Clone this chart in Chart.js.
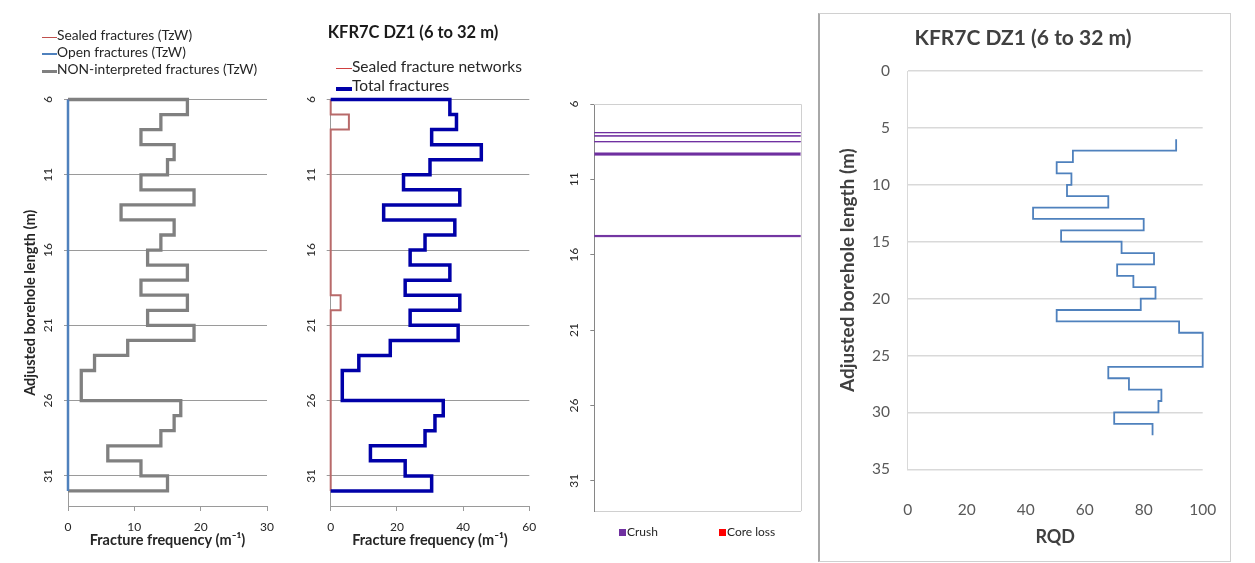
<!DOCTYPE html>
<html><head><meta charset="utf-8">
<script src="https://cdn.jsdelivr.net/npm/chart.js@4"></script>
<style>
html,body{margin:0;padding:0;background:#fff;}
body{width:1255px;height:563px;position:relative;overflow:hidden;font-family:Lato,'Open Sans',sans-serif;}
canvas{position:absolute;left:0;top:0;}
.lg{position:absolute;white-space:nowrap;color:#262626;}
.rqdbox{position:absolute;left:818px;top:13px;width:413px;height:549px;border:1px solid #d0d0d0;border-left:2px solid #a8a8a8;box-sizing:border-box;}
</style></head><body>
<div class="rqdbox"></div>
<canvas id="c1" width="1255" height="563"></canvas>
<canvas id="c2" width="1255" height="563"></canvas>
<canvas id="c3" width="1255" height="563"></canvas>
<canvas id="c4" width="1255" height="563"></canvas>
<script>
// ---------------- DATA ----------------
const depthBreaks = [6,7,8,9,10,11,12,13,14,15,16,17,18,19,20,21,22,23,24,25,26,27,28,29,30,31,32];
const depthTicks = [6,11,16,21,26,31];

// Panel 1 (TzW), fracture frequency per 1 m interval
const sealedTzW = [0,0,0,0,0,0,0,0,0,0,0,0,0,0,0,0,0,0,0,0,0,0,0,0,0,0];
const openTzW = [0,0,0,0,0,0,0,0,0,0,0,0,0,0,0,0,0,0,0,0,0,0,0,0,0,0];
const nonInterpretedTzW = [18,14,11,16,15,11,19,8,16,14,12,18,11,18,12,19,9,4,2,2,17,16,14,6,11,15];

// Panel 2
const sealedNetworks = [0,5.5,0,0,0,0,0,0,0,0,0,0,0,3,0,0,0,0,0,0,0,0,0,0,0,0];
const totalFractures = [36,38,30.5,45.5,30,22,39,16,37.5,28.5,24,36,22.5,39,24,38.5,18,8.5,3.5,3.5,34,31.5,28.5,12,22.5,30.5];

// Panel 3 (crush / core loss intervals, m)
const crushFrom = [7.89,8.11,8.49,9.25,14.72];
const crushTo   = [7.91,8.13,8.51,9.39,14.80];
const coreLossFrom = [];
const coreLossTo = [];

// Panel 4 (RQD)
const rqdBreaks = [6,7,8,9,10,11,12,13,14,15,16,17,18,19,20,21,22,23,26,27,28,29,30,31,32];
const rqdValues = [91,56,50.5,55.5,54,68,42.5,80,52,72.5,83.5,71,76.5,84,79,50.5,92,100,68,75,86,85,70,83];
const rqdTicks = [0,5,10,15,20,25,30,35];

// ---------------- HELPERS ----------------
const TXT = '#262626';
Chart.defaults.font.family = "Lato, 'Open Sans', sans-serif";
Chart.defaults.color = TXT;
Chart.defaults.animation = false;
Chart.defaults.responsive = false;
Chart.defaults.devicePixelRatio = 1;
Chart.defaults.plugins.legend.display = false;
Chart.defaults.plugins.tooltip.enabled = false;
Chart.defaults.elements.point.radius = 0;
Chart.defaults.elements.line.tension = 0;
Chart.defaults.elements.line.borderJoinStyle = 'miter';
Chart.defaults.elements.line.borderCapStyle = 'butt';

function stepPoints(breaks, values, closeZero) {
  const pts = [];
  if (closeZero) pts.push({x: 0, y: breaks[0]});
  values.forEach((v, i) => { pts.push({x: v, y: breaks[i]}); pts.push({x: v, y: breaks[i + 1]}); });
  if (closeZero) pts.push({x: 0, y: breaks[breaks.length - 1]});
  return pts;
}

function depthAxis(o) {
  return {
    type: 'linear', reverse: true, min: 6, max: 33,
    afterBuildTicks: s => { s.ticks = depthTicks.map(v => ({value: v})); },
    afterFit: s => { s.width = o.width; },
    ticks: {minRotation: 90, maxRotation: 90, crossAlign: 'center', padding: 9, font: {size: 12}, color: TXT, autoSkip: false},
    grid: {display: true, drawOnChartArea: o.grid, color: '#9a9a9a', tickColor: o.tickColor || '#9a9a9a', tickLength: 4},
    border: {display: true, color: o.border || '#9a9a9a'},
    title: o.title ? {display: true, text: 'Adjusted borehole length (m)', font: {size: 14.5, weight: 'bold'}, color: TXT, padding: {top: 21.3, bottom: 0}} : {display: false}
  };
}
function freqAxis(max, step) {
  return {
    type: 'linear', min: 0, max: max,
    afterFit: s => { s.height = 57; },
    ticks: {stepSize: step, padding: 9, font: {size: 12}, color: TXT, maxRotation: 0},
    grid: {display: true, drawOnChartArea: false, tickLength: 5, color: '#9a9a9a'},
    border: {display: true, color: '#9a9a9a'},
    title: {display: true, text: 'Fracture frequency (m\u207B\u00B9)', font: {size: 14.5, weight: 'bold'}, color: TXT, padding: {top: 0, bottom: 14.3}}
  };
}
function lineLegend(chart, idxs, cfg) {
  idxs.forEach((di, k) => {
    const ds = chart.data.datasets[di];
    const el = document.createElement('div');
    el.className = 'lg';
    el.style.cssText = 'left:' + cfg.left + 'px;top:' + (cfg.top + k * cfg.row) + 'px;font-size:' + cfg.size + 'px;line-height:16px;padding-left:' + cfg.lineW + 'px;';
    const ln = document.createElement('span');
    ln.style.cssText = 'position:absolute;left:0;top:' + cfg.lineTop[k] + 'px;width:' + cfg.lineW + 'px;height:' + cfg.thick[k] + 'px;background:' + cfg.color[k] + ';';
    el.appendChild(ln);
    el.appendChild(document.createTextNode(ds.label));
    document.body.appendChild(el);
  });
}
const framePlugin = {
  id: 'frame',
  beforeDatasetsDraw(chart) {
    const {ctx, chartArea: a} = chart;
    ctx.save();
    ctx.strokeStyle = '#d0d0d0'; ctx.lineWidth = 1;
    ctx.beginPath();
    ctx.moveTo(Math.round(a.left), Math.round(a.top) + 0.5);
    ctx.lineTo(Math.round(a.right) + 0.5, Math.round(a.top) + 0.5);
    ctx.lineTo(Math.round(a.right) + 0.5, Math.round(a.bottom));
    ctx.stroke();
    ctx.restore();
  }
};

// ---------------- PANEL 1 ----------------
const c1 = new Chart(document.getElementById('c1'), {
  type: 'line',
  data: {datasets: [
    {label: 'Sealed fractures (TzW)', data: stepPoints(depthBreaks, sealedTzW, true), borderColor: '#C0504D', borderWidth: 1.5, order: 1, clip: false},
    {label: 'Open fractures (TzW)', data: stepPoints(depthBreaks, openTzW, true), borderColor: '#4F81BD', borderWidth: 2.5, order: 0, clip: false},
    {label: 'NON-interpreted fractures (TzW)', data: stepPoints(depthBreaks, nonInterpretedTzW, true), borderColor: '#808080', borderWidth: 3.3, order: 2, clip: false}
  ]},
  options: {
    layout: {padding: {left: 0, right: 988, top: 99.5, bottom: 0}},
    scales: {x: freqAxis(30, 10), y: depthAxis({width: 68, grid: true, title: true})}
  }
});
lineLegend(c1, [0, 1, 2], {left: 42, top: 26.5, row: 17.3, size: 13.8, lineW: 15, lineTop: [10, 9, 8.5], thick: [1.5, 2, 3], color: ['#C0504D', '#4F81BD', '#808080']});

// ---------------- PANEL 2 ----------------
const c2 = new Chart(document.getElementById('c2'), {
  type: 'line',
  data: {datasets: [
    {label: 'Sealed fracture networks', data: stepPoints(depthBreaks, sealedNetworks, true), borderColor: '#b86a6a', borderWidth: 2, order: 1, clip: false},
    {label: 'Total fractures', data: stepPoints(depthBreaks, totalFractures, true), borderColor: '#0000a8', borderWidth: 3.5, order: 0, clip: false}
  ]},
  options: {
    layout: {padding: {left: 296.7, right: 725.7, top: 0, bottom: 0}},
    plugins: {title: {display: true, text: 'KFR7C DZ1 (6 to 32 m)', font: {size: 16.5, weight: 'bold'}, color: '#1a1a1a', padding: {top: 23.1, bottom: 56.6}}},
    scales: {x: freqAxis(60, 20), y: depthAxis({width: 34, grid: true, title: false})}
  }
});
lineLegend(c2, [0, 1], {left: 336, top: 58, row: 19, size: 15.5, lineW: 16, lineTop: [10, 10], thick: [1, 4], color: ['#d04040', '#0000a8']});

// ---------------- PANEL 3 ----------------
const crushSets = [];
crushFrom.forEach((f, i) => {
  crushSets.push({label: i === 0 ? 'Crush' : '', data: [{x: 0, y: f}, {x: 1, y: f}], borderColor: '#7030A0', borderWidth: 1, fill: false, clip: false});
  crushSets.push({label: '', data: [{x: 0, y: crushTo[i]}, {x: 1, y: crushTo[i]}], borderColor: '#7030A0', borderWidth: 1, fill: '-1', backgroundColor: '#7030A0', clip: false});
});
const coreSet = {label: 'Core loss', data: coreLossFrom.map((f, i) => ({x: 0, y: f})), borderColor: '#FF0000', backgroundColor: '#FF0000', borderWidth: 1};
const c3 = new Chart(document.getElementById('c3'), {
  type: 'line',
  data: {datasets: crushSets.concat([coreSet])},
  options: {
    layout: {padding: {left: 560, right: 454.3, top: 104, bottom: 0}},
    scales: {
      x: {type: 'linear', min: 0, max: 1, afterFit: s => { s.height = 52; }, ticks: {display: false}, grid: {display: false}, border: {display: true, color: '#d0d0d0'}},
      y: depthAxis({width: 34.3, grid: false, title: false, border: '#868686', tickColor: '#868686'})
    }
  },
  plugins: [framePlugin]
});
// square legend for panel 3
[[0, 619, '#7030A0'], [crushSets.length, 719, '#FF0000']].forEach(([di, x, col]) => {
  const el = document.createElement('div');
  el.className = 'lg';
  el.style.cssText = 'left:' + x + 'px;top:523.5px;font-size:12px;line-height:16px;padding-left:8px;';
  const sq = document.createElement('span');
  sq.style.cssText = 'position:absolute;left:0;top:5px;width:7px;height:7px;background:' + col + ';';
  el.appendChild(sq);
  el.appendChild(document.createTextNode(c3.data.datasets[di].label));
  document.body.appendChild(el);
});

// ---------------- PANEL 4 ----------------
const c4 = new Chart(document.getElementById('c4'), {
  type: 'line',
  data: {datasets: [
    {label: 'RQD', data: stepPoints(rqdBreaks, rqdValues, false), borderColor: '#4F81BD', borderWidth: 1.8, clip: false}
  ]},
  options: {
    layout: {padding: {left: 843.3, right: 52.3, top: 0, bottom: 0}},
    plugins: {title: {display: true, text: 'KFR7C DZ1 (6 to 32 m)', font: {size: 21, weight: 'bold'}, color: '#404040', padding: {top: 25.4, bottom: 20.4}}},
    scales: {
      x: {type: 'linear', min: 0, max: 100, afterFit: s => { s.height = 93.7; },
        ticks: {stepSize: 20, padding: 23, font: {size: 15.5}, color: '#595959', maxRotation: 0},
        grid: {display: false}, border: {display: false},
        title: {display: true, text: 'RQD', font: {size: 18, weight: 'bold'}, color: '#404040', padding: {top: 0, bottom: 15.5}}},
      y: {type: 'linear', reverse: true, min: 0, max: 35, afterFit: s => { s.width = 64.4; },
        afterBuildTicks: s => { s.ticks = rqdTicks.map(v => ({value: v})); },
        ticks: {padding: 17.7, font: {size: 15.5}, color: '#595959'},
        grid: {color: '#d9d9d9', lineWidth: 1.5, drawTicks: false},
        border: {display: true, color: '#d9d9d9'},
        title: {display: true, text: 'Adjusted borehole length (m)', font: {size: 19, weight: 'bold'}, color: '#404040', padding: {top: -6.7, bottom: 0}}}
    }
  }
});
</script>
</body></html>
